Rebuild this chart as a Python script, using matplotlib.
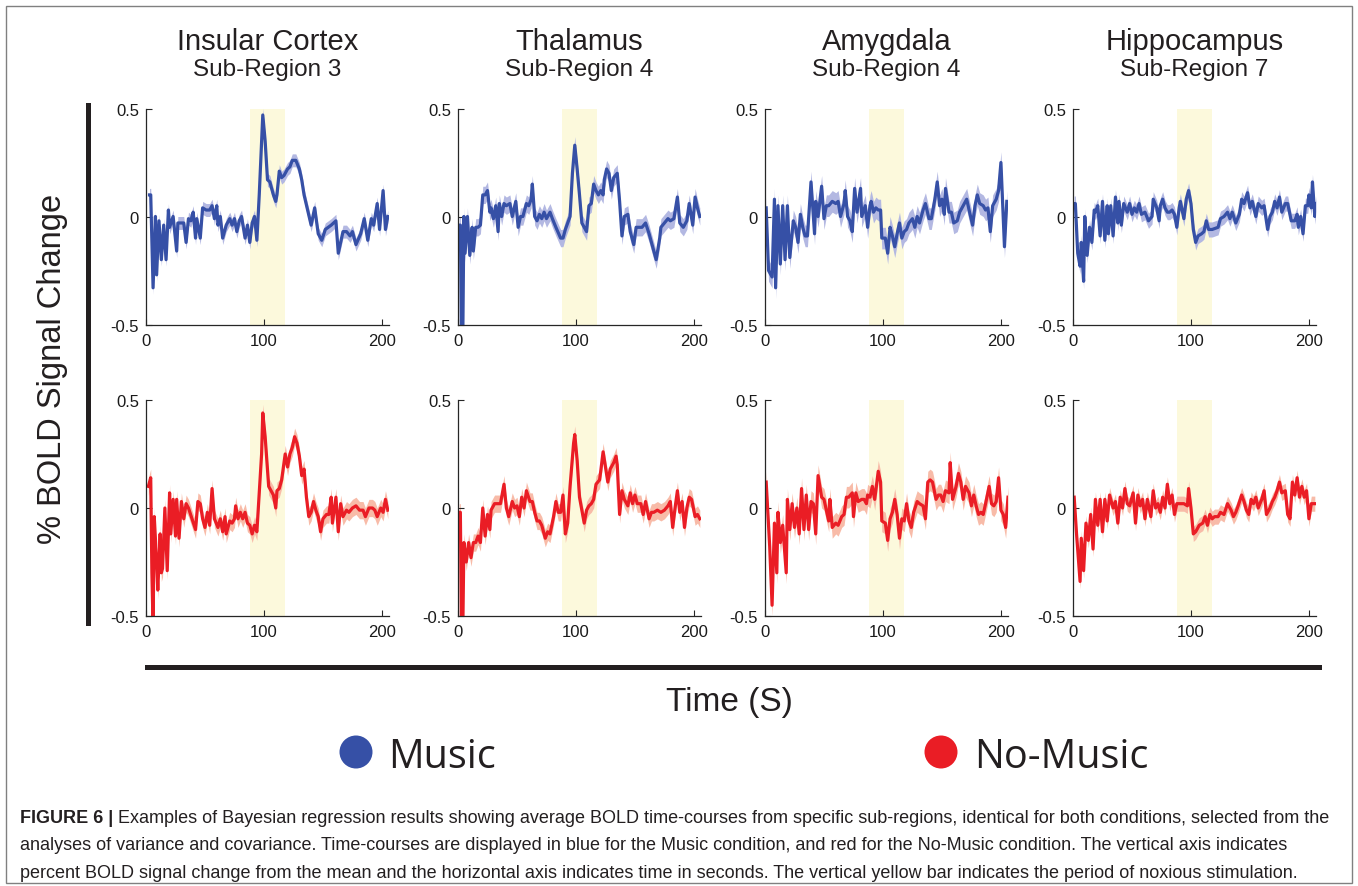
import numpy as np
import matplotlib.pyplot as plt
from matplotlib.patches import Rectangle, Ellipse

plt.rcParams['font.family'] = ['Liberation Sans', 'DejaVu Sans']

# ---- data ----
regions = ['Insular Cortex', 'Thalamus', 'Amygdala', 'Hippocampus']
sub_regions = ['Sub-Region 3', 'Sub-Region 4', 'Sub-Region 4', 'Sub-Region 7']
stim_window = (88, 118)

# Music condition (top row)
ins_music_t = [3, 4, 6, 8, 9, 11, 13, 15, 17, 19, 20, 23, 26, 27, 30, 32, 34, 36, 38, 40,
               42, 43, 46, 48, 51, 54, 56, 58, 60, 61, 63, 65, 68, 71, 73, 75, 77, 79, 81, 84,
               86, 88, 90, 92, 94, 96, 99, 101, 103, 105, 108, 110, 111, 113, 115, 117, 120, 122, 124, 127,
               130, 132, 134, 137, 140, 143, 146, 149, 152, 157, 161, 163, 167, 170, 173, 175, 178, 182, 185, 188,
               191, 193, 196, 198, 201, 203, 205]
ins_music_v = [0.10, 0.10, -0.33, 0.00, -0.27, -0.02, -0.20, -0.04, -0.20, 0.03,
               -0.05, 0.00, -0.16, -0.03, -0.03, -0.03, -0.12, -0.01, -0.02, 0.02,
               -0.10, -0.01, -0.10, 0.04, 0.03, 0.03, 0.05, -0.01, 0.05, -0.04,
               0.00, -0.10, -0.04, -0.01, -0.04, -0.01, -0.07, -0.02, 0.00, -0.10,
               -0.04, -0.12, -0.03, 0.00, -0.11, 0.10, 0.47, 0.35, 0.17, 0.16,
               0.10, 0.07, 0.10, 0.21, 0.18, 0.19, 0.22, 0.23, 0.26, 0.26,
               0.22, 0.17, 0.10, 0.03, -0.04, 0.04, -0.08, -0.11, -0.06, -0.04,
               -0.02, -0.17, -0.07, -0.07, -0.09, -0.07, -0.13, -0.08, -0.01, -0.11,
               -0.01, -0.04, 0.06, -0.06, 0.12, -0.06, 0.00]

thal_music_t = [1, 2, 3, 4, 5, 6, 8, 10, 12, 13, 15, 17, 19, 21, 23, 25, 27, 28, 30, 32,
                34, 35, 37, 39, 41, 44, 46, 49, 51, 53, 55, 58, 60, 62, 63, 65, 67, 69, 71, 73,
                75, 78, 80, 83, 87, 89, 91, 93, 95, 97, 99, 101, 103, 105, 109, 111, 113, 115, 117, 119,
                121, 123, 124, 126, 128, 130, 132, 135, 137, 139, 141, 144, 146, 149, 151, 153, 156, 159, 162, 165,
                168, 171, 172, 175, 178, 180, 183, 186, 188, 191, 194, 196, 199, 201, 203, 205]
thal_music_v = [-0.04, -0.04, -0.60, -0.60, 0.00, -0.17, 0.00, -0.18, -0.05, -0.16,
                -0.05, -0.05, -0.04, 0.10, 0.10, 0.12, 0.02, 0.04, -0.01, 0.05,
                -0.07, 0.06, 0.00, 0.06, 0.05, 0.06, 0.00, 0.07, -0.05, 0.00,
                0.00, 0.06, 0.05, 0.08, 0.15, 0.00, -0.02, 0.01, -0.01, 0.02,
                -0.01, 0.02, -0.01, -0.05, -0.10, -0.10, -0.06, -0.03, 0.00, 0.20,
                0.33, 0.22, 0.10, -0.03, -0.07, 0.05, 0.06, 0.15, 0.12, 0.10,
                0.12, 0.10, 0.17, 0.22, 0.20, 0.12, 0.18, 0.20, 0.07, -0.09,
                0.00, 0.01, -0.07, -0.13, -0.05, -0.05, -0.05, -0.03, -0.08, -0.14,
                -0.20, -0.10, -0.05, -0.03, -0.01, -0.02, -0.01, 0.09, -0.03, -0.05,
                -0.02, 0.06, -0.04, 0.09, 0.04, 0.00]

amyg_music_t = [1, 3, 6, 8, 9, 11, 13, 15, 17, 19, 21, 24, 26, 28, 30, 32, 34, 36, 39, 42,
                43, 45, 48, 50, 52, 54, 57, 60, 62, 64, 67, 68, 70, 72, 74, 76, 78, 81, 82, 85,
                87, 89, 90, 92, 94, 96, 98, 99, 102, 104, 106, 108, 110, 112, 114, 116, 118, 120, 122, 125,
                127, 129, 131, 134, 136, 139, 141, 144, 146, 148, 150, 152, 153, 156, 158, 160, 163, 165, 168, 171,
                173, 176, 178, 180, 182, 185, 187, 189, 191, 193, 196, 198, 200, 203, 205]
amyg_music_v = [0.04, -0.25, -0.28, 0.08, -0.33, 0.05, -0.22, 0.05, -0.20, 0.05,
                -0.19, -0.02, -0.05, -0.12, 0.01, -0.05, -0.09, -0.09, 0.16, -0.08,
                0.07, 0.00, 0.14, -0.01, 0.05, 0.05, 0.07, 0.06, 0.07, 0.00,
                0.06, 0.12, 0.00, -0.02, -0.07, 0.13, 0.02, 0.13, 0.00, 0.05,
                -0.05, 0.05, 0.07, 0.02, 0.04, 0.03, 0.03, -0.10, -0.10, -0.17,
                -0.05, -0.09, -0.14, -0.08, -0.03, -0.10, -0.07, -0.06, -0.03, -0.01,
                -0.05, 0.00, -0.03, 0.03, 0.06, -0.01, -0.01, 0.08, 0.16, 0.05,
                0.08, 0.01, 0.13, 0.02, 0.02, -0.03, -0.02, 0.02, 0.05, 0.08,
                0.03, -0.04, 0.05, 0.10, 0.06, 0.05, 0.03, 0.04, -0.07, 0.05,
                0.08, 0.12, 0.25, -0.14, 0.07]

hippo_music_t = [1, 2, 4, 6, 7, 9, 10, 12, 14, 16, 18, 19, 21, 23, 25, 27, 29, 30, 32, 34,
                 36, 38, 39, 41, 43, 46, 48, 50, 52, 54, 56, 58, 61, 64, 67, 68, 71, 73, 74, 76,
                 78, 80, 82, 84, 86, 88, 90, 91, 94, 96, 98, 100, 102, 104, 106, 109, 111, 113, 115, 118,
                 123, 125, 128, 131, 133, 135, 138, 141, 143, 145, 148, 150, 152, 155, 157, 160, 162, 165, 167, 169,
                 171, 173, 175, 177, 180, 182, 185, 188, 190, 191, 193, 195, 197, 199, 200, 202, 203, 205, 206]
hippo_music_v = [0.06, 0.06, -0.17, -0.23, -0.12, -0.30, 0.00, -0.18, -0.05, -0.12,
                 0.03, 0.02, 0.05, -0.09, 0.07, -0.11, 0.05, -0.08, 0.05, -0.09,
                 0.09, -0.03, 0.07, -0.04, 0.06, 0.02, 0.06, 0.01, 0.04, 0.02,
                 0.06, 0.01, 0.02, -0.02, 0.00, 0.08, 0.04, -0.02, 0.05, 0.08,
                 0.04, 0.02, 0.02, 0.03, 0.01, -0.05, 0.04, 0.07, -0.01, 0.08,
                 0.12, 0.06, -0.06, -0.12, -0.09, -0.08, -0.07, -0.02, -0.06, -0.06,
                 -0.05, -0.01, 0.00, 0.02, -0.01, 0.02, -0.03, 0.01, 0.08, 0.06,
                 0.11, 0.04, 0.07, 0.00, 0.06, 0.04, 0.05, -0.06, 0.00, 0.02,
                 0.07, 0.04, 0.09, 0.02, 0.06, 0.06, -0.02, -0.02, 0.01, -0.05,
                 0.00, -0.08, 0.05, 0.05, 0.10, 0.04, 0.16, 0.00, 0.06]

# No-Music condition (bottom row)
ins_nomusic_t = [2, 4, 5, 6, 7, 9, 10, 12, 13, 14, 16, 18, 20, 21, 23, 25, 26, 28, 30, 32,
                 34, 36, 39, 42, 44, 46, 48, 50, 52, 54, 56, 58, 61, 63, 65, 67, 68, 71, 73, 75,
                 76, 78, 80, 82, 84, 86, 88, 90, 92, 94, 96, 98, 99, 101, 104, 106, 108, 110, 111, 113,
                 115, 118, 120, 122, 124, 126, 128, 130, 132, 134, 136, 138, 140, 142, 144, 146, 148, 150, 153, 155,
                 157, 158, 161, 163, 165, 167, 170, 172, 175, 178, 181, 184, 186, 189, 192, 194, 196, 199, 201, 203,
                 205]
ins_nomusic_v = [0.10, 0.14, -0.30, -0.55, -0.04, -0.25, -0.38, -0.12, -0.30, -0.28,
                 0.00, -0.29, 0.07, -0.12, 0.04, -0.13, 0.04, -0.14, 0.03, -0.05,
                 0.02, 0.00, -0.05, -0.10, 0.03, 0.02, -0.05, -0.09, -0.02, -0.08,
                 0.09, -0.05, -0.09, -0.05, -0.11, -0.04, -0.12, -0.06, -0.07, -0.05,
                 0.01, -0.05, -0.02, -0.05, -0.02, -0.07, -0.08, -0.12, -0.08, -0.11,
                 0.07, 0.25, 0.44, 0.33, 0.10, 0.08, 0.06, 0.00, 0.08, 0.09,
                 0.13, 0.25, 0.19, 0.25, 0.28, 0.33, 0.30, 0.24, 0.15, 0.18,
                 0.05, -0.04, -0.02, 0.03, -0.01, -0.04, -0.11, -0.05, -0.03, -0.03,
                 0.05, -0.07, 0.05, -0.11, 0.02, -0.04, -0.01, -0.02, 0.00, 0.01,
                 -0.01, -0.01, -0.04, 0.00, 0.00, -0.01, -0.04, 0.00, -0.02, 0.04,
                 -0.01]

thal_nomusic_t = [1, 2, 3, 4, 5, 7, 9, 11, 13, 15, 17, 19, 21, 23, 25, 27, 28, 31, 34, 36,
                  39, 41, 43, 46, 48, 50, 52, 54, 56, 58, 61, 63, 65, 67, 69, 71, 74, 76, 78, 81,
                  83, 85, 87, 89, 91, 93, 95, 98, 99, 101, 103, 105, 107, 109, 111, 113, 115, 117, 120, 121,
                  123, 125, 127, 129, 132, 134, 135, 137, 139, 141, 144, 146, 148, 150, 152, 155, 157, 159, 162, 164,
                  166, 169, 172, 175, 178, 180, 182, 184, 186, 188, 190, 192, 194, 196, 198, 201, 203, 205]
thal_nomusic_v = [-0.02, -0.02, -0.60, -0.60, -0.16, -0.25, -0.16, -0.23, -0.16, -0.16,
                  -0.13, -0.16, 0.00, -0.13, -0.03, -0.10, -0.01, 0.02, 0.02, 0.02,
                  0.11, 0.00, -0.04, 0.03, 0.00, 0.01, -0.04, 0.05, 0.00, 0.08,
                  0.03, 0.03, -0.02, -0.06, -0.06, -0.08, -0.14, -0.11, -0.12, -0.04,
                  0.03, -0.02, -0.02, 0.06, -0.12, -0.07, 0.10, 0.30, 0.34, 0.22,
                  0.05, -0.01, -0.07, -0.01, 0.01, 0.02, 0.04, 0.11, 0.13, 0.17,
                  0.26, 0.19, 0.12, 0.18, 0.21, 0.24, 0.20, -0.03, 0.08, 0.04,
                  0.01, 0.07, 0.02, 0.06, 0.02, 0.02, -0.03, 0.03, -0.05, -0.02,
                  -0.02, -0.01, -0.02, -0.01, 0.01, 0.03, -0.09, 0.00, 0.08, -0.02,
                  0.03, -0.09, 0.00, 0.05, 0.04, -0.04, -0.03, -0.05]

amyg_nomusic_t = [1, 4, 6, 8, 10, 11, 13, 15, 18, 19, 21, 23, 25, 27, 29, 31, 33, 35, 37, 39,
                  41, 43, 45, 48, 50, 52, 54, 55, 57, 60, 62, 65, 67, 69, 71, 74, 75, 77, 79, 82,
                  84, 86, 87, 89, 91, 93, 96, 98, 99, 102, 104, 106, 108, 110, 112, 114, 116, 118, 120, 122,
                  124, 126, 129, 131, 134, 136, 138, 140, 142, 145, 147, 149, 151, 153, 156, 157, 159, 162, 164, 166,
                  168, 170, 173, 175, 177, 179, 181, 183, 185, 187, 190, 192, 194, 196, 198, 200, 202, 204, 206]
amyg_nomusic_v = [0.12, -0.18, -0.45, -0.07, -0.30, -0.02, -0.16, -0.08, -0.30, 0.04,
                  -0.10, 0.02, -0.09, 0.00, -0.12, 0.09, -0.10, 0.06, -0.10, 0.03,
                  0.02, -0.12, 0.15, 0.05, 0.04, -0.01, -0.06, 0.04, -0.09, -0.07,
                  -0.08, -0.04, -0.03, 0.05, 0.05, 0.07, -0.04, 0.07, 0.03, 0.04,
                  0.04, 0.02, 0.06, 0.05, 0.10, 0.04, 0.17, 0.12, -0.06, -0.07,
                  -0.15, -0.05, -0.02, 0.04, -0.03, -0.14, -0.05, -0.06, 0.02, -0.06,
                  -0.09, -0.02, 0.03, 0.02, 0.01, -0.05, 0.12, 0.13, 0.12, 0.04,
                  0.06, 0.06, 0.03, 0.08, 0.07, 0.21, 0.04, 0.10, 0.16, 0.12,
                  0.04, 0.10, 0.07, 0.01, 0.06, 0.01, -0.03, -0.02, -0.03, 0.02,
                  0.10, 0.02, 0.01, 0.03, 0.14, -0.01, -0.03, -0.09, 0.05]

hippo_nomusic_t = [1, 3, 6, 7, 9, 11, 13, 15, 17, 19, 21, 23, 25, 27, 29, 31, 34, 36, 38, 40,
                   42, 44, 46, 48, 51, 53, 55, 57, 59, 61, 63, 66, 68, 70, 72, 74, 76, 78, 80, 82,
                   84, 86, 88, 91, 94, 97, 98, 100, 102, 104, 107, 110, 112, 114, 116, 118, 120, 123, 125, 128,
                   131, 134, 136, 138, 140, 143, 145, 147, 149, 151, 153, 155, 157, 160, 162, 164, 167, 169, 171, 173,
                   175, 177, 180, 182, 184, 186, 188, 190, 192, 194, 196, 198, 200, 202, 205]
hippo_nomusic_v = [0.05, -0.12, -0.34, -0.14, -0.29, -0.07, -0.15, -0.03, -0.19, 0.04,
                   -0.08, 0.04, -0.11, 0.04, -0.06, 0.06, 0.00, 0.03, -0.07, 0.05,
                   0.00, 0.09, 0.02, 0.01, 0.07, -0.07, 0.06, 0.01, 0.04, -0.05,
                   0.04, -0.04, 0.08, 0.00, 0.02, -0.02, 0.05, 0.00, 0.11, 0.02,
                   0.06, -0.03, 0.02, 0.02, 0.02, 0.01, 0.09, 0.00, -0.12, -0.11,
                   -0.08, -0.07, -0.04, -0.08, -0.03, -0.05, -0.04, -0.04, -0.02, -0.03,
                   0.02, -0.01, -0.04, -0.02, 0.01, 0.06, 0.03, -0.01, -0.03, 0.04,
                   0.02, 0.05, 0.00, 0.04, 0.08, -0.03, 0.00, 0.03, 0.05, 0.08,
                   0.12, 0.07, 0.08, -0.03, -0.05, 0.12, 0.06, 0.14, 0.05, 0.10,
                   0.05, 0.08, -0.05, 0.02, 0.02]

# half-width of the shaded credible band for each panel
music_band = [0.03, 0.04, 0.05, 0.035]
nomusic_band = [0.04, 0.04, 0.05, 0.035]

caption_head = 'FIGURE 6 |'
caption_lines = [
    'Examples of Bayesian regression results showing average BOLD time-courses from specific sub-regions, identical for both conditions, selected from the',
    'analyses of variance and covariance. Time-courses are displayed in blue for the Music condition, and red for the No-Music condition. The vertical axis indicates',
    'percent BOLD signal change from the mean and the horizontal axis indicates time in seconds. The vertical yellow bar indicates the period of noxious stimulation.',
]

music_t = [ins_music_t, thal_music_t, amyg_music_t, hippo_music_t]
music_v = [ins_music_v, thal_music_v, amyg_music_v, hippo_music_v]
nomusic_t = [ins_nomusic_t, thal_nomusic_t, amyg_nomusic_t, hippo_nomusic_t]
nomusic_v = [ins_nomusic_v, thal_nomusic_v, amyg_nomusic_v, hippo_nomusic_v]

blue, blue_band = '#3650a6', '#b3b8e2'
red, red_band = '#ea1d25', '#f8bba8'
stim_color = '#fcf9dc'
ink = '#231f20'

# ---- layout in pixels ----
W, H = 1358, 887
fig = plt.figure(figsize=(W / 100, H / 100), dpi=100)


def fx(x):
    return x / W


def fy(y):
    return 1 - y / H


panel_left = [146, 458, 765, 1073]
row_top = [109.5, 401]
panel_w, panel_h = 243, 216

rows = [(music_t, music_v, music_band, blue, blue_band),
        (nomusic_t, nomusic_v, nomusic_band, red, red_band)]

for r, (ts, vs, bands, lc, bc) in enumerate(rows):
    for c in range(4):
        ax = fig.add_axes([fx(panel_left[c]), fy(row_top[r] + panel_h),
                           panel_w / W, panel_h / H])
        t = np.array(ts[c])
        v = np.array(vs[c])
        ax.axvspan(stim_window[0], stim_window[1], color=stim_color, lw=0, zorder=0)
        ax.fill_between(t, v - bands[c], v + bands[c], color=bc, lw=0, zorder=1)
        ax.plot(t, v, color=lc, lw=2.3, zorder=2)
        ax.set_xlim(0, 206)
        ax.set_ylim(-0.5, 0.5)
        ax.set_xticks([0, 100, 200])
        ax.set_yticks([-0.5, 0, 0.5])
        ax.set_yticklabels(['-0.5', '0', '0.5'])
        for s in ['top', 'right']:
            ax.spines[s].set_visible(False)
        for s in ['left', 'bottom']:
            ax.spines[s].set_color('#262626')
            ax.spines[s].set_linewidth(0.9)
        ax.tick_params(direction='in', length=4, width=0.8, color='#262626',
                       labelsize=12, labelcolor='#1a1a1a')
        ax.tick_params(axis='x', pad=6)
        ax.tick_params(axis='y', pad=5)
        ax.set_facecolor('none')

# column titles
for c in range(4):
    cx = fx(panel_left[c] + panel_w / 2)
    fig.text(cx, fy(49.5), regions[c], ha='center', va='baseline', fontsize=21, color=ink)
    fig.text(cx, fy(76), sub_regions[c], ha='center', va='baseline', fontsize=17.5, color=ink)

# shared y label and bar
fig.text(fx(52), fy(369), '% BOLD Signal Change', rotation=90, ha='center', va='center',
         fontsize=23.5, color=ink)
fig.add_artist(Rectangle((fx(86), fy(627)), 5 / W, (627 - 104) / H,
                         transform=fig.transFigure, color=ink, lw=0))

# shared x label and bar
fig.add_artist(Rectangle((fx(145), fy(670.5)), (1322 - 145) / W, 5 / H,
                         transform=fig.transFigure, color=ink, lw=0))
fig.text(fx(729.5), fy(711), 'Time (S)', ha='center', va='baseline', fontsize=24, color=ink)

# legend
legend_items = [('Music', blue, 356, 388), ('No-Music', red, 941, 974)]
for label, col, cx, tx in legend_items:
    fig.add_artist(Ellipse((fx(cx), fy(753)), 33 / W, 33 / H,
                           transform=fig.transFigure, color=col, lw=0))
    fig.text(fx(tx), fy(768), label, ha='left', va='baseline', fontsize=28.5,
             family=['Open Sans', 'DejaVu Sans'], color=ink)

# caption
cap_size = 13
baselines = [823, 850.5, 878]
head = fig.text(fx(20), fy(baselines[0]), caption_head, ha='left', va='baseline',
                fontsize=cap_size, fontweight='bold', color=ink)
renderer = fig.canvas.get_renderer()
head_end = head.get_window_extent(renderer=renderer).x1
fig.text((head_end + 5) / W, fy(baselines[0]), caption_lines[0], ha='left', va='baseline',
         fontsize=cap_size, color=ink)
for line, b in zip(caption_lines[1:], baselines[1:]):
    fig.text(fx(20), fy(b), line, ha='left', va='baseline', fontsize=cap_size, color=ink)

# frame around the figure
fig.add_artist(Rectangle((fx(5.5), fy(884)), (1352 - 5.5) / W, (884 - 7) / H,
                         transform=fig.transFigure, fill=False, ec='#808080', lw=1.0))

fig.savefig('out.png', dpi=100)
